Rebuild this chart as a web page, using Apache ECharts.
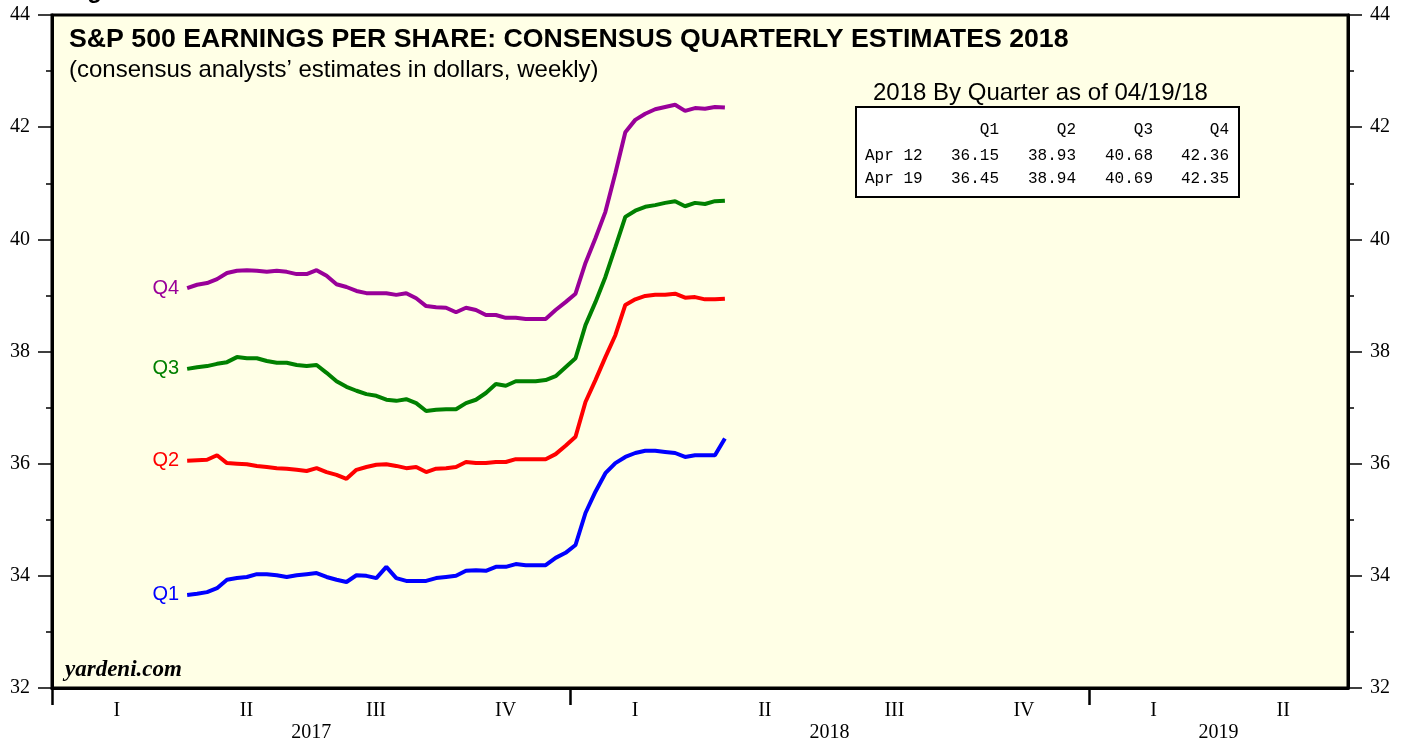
<!DOCTYPE html>
<html>
<head>
<meta charset="utf-8">
<script src="https://cdn.jsdelivr.net/npm/echarts@6/dist/echarts.min.js"></script>
<style>
html, body { margin: 0; padding: 0; background: #fff; }
#chart { width: 1407px; height: 744px; }
</style>
</head>
<body>
<div id="chart"></div>
<script>
// weekly observations, Thursdays from 2017-04-06 to 2018-04-19
const firstWeek = [2017, 3, 6];
const q1Est = [
    33.66, 33.68, 33.71, 33.78, 33.93, 33.96, 33.98, 34.03, 34.03, 34.01,
    33.98, 34.01, 34.03, 34.05, 33.98, 33.93, 33.89, 34.01, 34.00, 33.96,
    34.16, 33.96, 33.91, 33.91, 33.91, 33.96, 33.98, 34.00, 34.09, 34.10,
    34.09, 34.16, 34.16, 34.21, 34.19, 34.19, 34.19, 34.32, 34.41, 34.55,
    35.12, 35.50, 35.83, 36.01, 36.12, 36.19, 36.23, 36.23, 36.21, 36.19,
    36.12, 36.15, 36.15, 36.15, 36.45
];
const q2Est = [
    36.05, 36.06, 36.07, 36.15, 36.01, 36.00, 35.99, 35.96, 35.94, 35.92,
    35.91, 35.89, 35.87, 35.92, 35.85, 35.80, 35.73, 35.89, 35.94, 35.98,
    35.99, 35.96, 35.92, 35.94, 35.85, 35.91, 35.92, 35.94, 36.03, 36.01,
    36.01, 36.03, 36.03, 36.08, 36.08, 36.08, 36.08, 36.17, 36.32, 36.48,
    37.10, 37.49, 37.90, 38.29, 38.83, 38.93, 38.99, 39.01, 39.01, 39.03,
    38.96, 38.97, 38.93, 38.93, 38.94
];
const q3Est = [
    37.69, 37.72, 37.74, 37.78, 37.81, 37.90, 37.88, 37.88, 37.83, 37.80,
    37.80, 37.76, 37.74, 37.76, 37.62, 37.47, 37.37, 37.30, 37.24, 37.21,
    37.14, 37.12, 37.15, 37.08, 36.94, 36.96, 36.97, 36.97, 37.08, 37.14,
    37.26, 37.42, 37.39, 37.47, 37.47, 37.47, 37.49, 37.56, 37.72, 37.88,
    38.47, 38.88, 39.33, 39.86, 40.40, 40.51, 40.58, 40.61, 40.65, 40.68,
    40.59, 40.65, 40.63, 40.68, 40.69
];
const q4Est = [
    39.13, 39.19, 39.22, 39.29, 39.40, 39.44, 39.45, 39.44, 39.42, 39.44,
    39.42, 39.38, 39.38, 39.45, 39.35, 39.20, 39.15, 39.08, 39.04, 39.04,
    39.04, 39.01, 39.04, 38.95, 38.81, 38.79, 38.78, 38.70, 38.78, 38.74,
    38.65, 38.65, 38.60, 38.60, 38.58, 38.58, 38.58, 38.74, 38.88, 39.03,
    39.58, 40.02, 40.49, 41.18, 41.91, 42.13, 42.24, 42.32, 42.36, 42.40,
    42.29, 42.34, 42.33, 42.36, 42.35
];
const seriesNames = ['Q1', 'Q2', 'Q3', 'Q4'];
const quarterLabels = ['I', 'II', 'III', 'IV', 'I', 'II', 'III', 'IV', 'I', 'II'];
const yearLabels = { 2: '2017', 6: '2018', 9: '2019' };
const tableCols = ['Q1', 'Q2', 'Q3', 'Q4'];
const tableRows = ['Apr 12', 'Apr 19'];
const tableValues = [
    [36.15, 38.93, 40.68, 42.36],
    [36.45, 38.94, 40.69, 42.35]
];

const colors = ['#0000FF', '#FF0000', '#008000', '#990099'];
const serif = '"Liberation Serif", "DejaVu Serif", serif';
const sans = '"Liberation Sans", Arial, sans-serif';
const mono = '"Liberation Mono", "Courier New", monospace';

const chart = echarts.init(document.getElementById('chart'));

const weeks = q1Est.map((v, i) => new Date(firstWeek[0], firstWeek[1], firstWeek[2] + 7 * i).getTime());

const seriesData = [q1Est, q2Est, q3Est, q4Est].map((vals, idx) => {
    const data = vals.map((v, i) => {
        if (i === 0) {
            return {
                value: [weeks[i], v],
                label: {
                    show: true,
                    position: 'left',
                    distance: 8,
                    formatter: seriesNames[idx],
                    color: colors[idx],
                    fontFamily: sans,
                    fontSize: 20
                }
            };
        }
        return [weeks[i], v];
    });
    return {
        name: seriesNames[idx],
        type: 'line',
        xAxisIndex: 0,
        yAxisIndex: 0,
        symbol: 'circle',
        symbolSize: 0,
        showSymbol: true,
        lineStyle: { color: colors[idx], width: 4 },
        itemStyle: { color: colors[idx] },
        data: data
    };
});

// table in the upper right
const colRight = [999, 1076, 1153, 1229];
const rowY = [156, 179];
const tableTexts = [];
tableCols.forEach((c, j) => {
    tableTexts.push({
        type: 'text', x: colRight[j], y: 130,
        style: { text: c, font: '16px ' + mono, fill: '#000', textAlign: 'right', textVerticalAlign: 'middle' }
    });
});
tableRows.forEach((r, i) => {
    tableTexts.push({
        type: 'text', x: 865, y: rowY[i],
        style: { text: r, font: '16px ' + mono, fill: '#000', textAlign: 'left', textVerticalAlign: 'middle' }
    });
    tableValues[i].forEach((v, j) => {
        tableTexts.push({
            type: 'text', x: colRight[j], y: rowY[i],
            style: { text: v.toFixed(2), font: '16px ' + mono, fill: '#000', textAlign: 'right', textVerticalAlign: 'middle' }
        });
    });
});

const yMajor = (pos) => ({
    type: 'value', position: pos, min: 32, max: 44, interval: 2,
    axisLine: { show: true, lineStyle: { color: '#000', width: 3 } },
    axisTick: { show: true, length: 14, lineStyle: { color: '#000', width: 1.5 } },
    axisLabel: { color: '#000', fontFamily: serif, fontSize: 20, margin: 22 },
    splitLine: { show: false }
});
const yMinor = (pos) => ({
    type: 'value', position: pos, min: 32, max: 44, interval: 1,
    axisLine: { show: false },
    axisTick: { show: true, length: 6, lineStyle: { color: '#000', width: 1.5 } },
    axisLabel: { show: false },
    splitLine: { show: false }
});

const option = {
    backgroundColor: '#fff',
    animation: false,
    title: [
        {
            text: 'S&P 500 EARNINGS PER SHARE: CONSENSUS QUARTERLY ESTIMATES 2018',
            left: 64, top: 21,
            textStyle: { fontFamily: sans, fontSize: 26.7, fontWeight: 'bold', color: '#000' }
        },
        {
            text: '(consensus analysts\u2019 estimates in dollars, weekly)',
            left: 64, top: 53,
            textStyle: { fontFamily: sans, fontSize: 24, fontWeight: 'normal', color: '#000' }
        }
    ],
    grid: [
        {
            left: 52, right: 59, top: 15, bottom: 56,
            show: true, backgroundColor: '#FFFFE6', borderColor: '#000', borderWidth: 3
        },
        // wider twin grid only for the year-boundary ticks (its last tick falls off the page)
        { left: 52, width: 1296 * 1.2, top: 15, bottom: 56, show: false, outerBoundsMode: 'none', containLabel: false }
    ],
    xAxis: [
        {
            type: 'time', show: false,
            min: new Date(2017, 0, 1).getTime(), max: new Date(2019, 6, 1).getTime()
        },
        {
            type: 'category', position: 'bottom', data: quarterLabels, boundaryGap: true,
            axisLine: { show: true, lineStyle: { color: '#000', width: 3 } },
            axisTick: { show: false },
            axisLabel: { color: '#000', fontFamily: serif, fontSize: 20, margin: 13, interval: 0 }
        },
        {
            type: 'value', position: 'bottom', min: 0, max: 10, interval: 1,
            axisLine: { show: false }, axisTick: { show: false }, splitLine: { show: false },
            axisLabel: {
                color: '#000', fontFamily: serif, fontSize: 20, margin: 35,
                formatter: (v) => yearLabels[v] || ''
            }
        },
        {
            gridIndex: 1, type: 'value', position: 'bottom', min: 0, max: 12, interval: 4,
            axisLine: { show: false }, splitLine: { show: false }, axisLabel: { show: false },
            axisTick: { show: true, length: 17, lineStyle: { color: '#000', width: 2.5 } }
        }
    ],
    yAxis: [yMajor('left'), yMinor('left'), yMajor('right'), yMinor('right'),
        { gridIndex: 1, type: 'value', show: false, min: 0, max: 1 }],
    graphic: [
        {
            type: 'text', x: 66, y: 3,
            style: { text: 'Figure', font: 'bold 24px ' + sans, fill: '#000', textVerticalAlign: 'bottom' }
        },
        {
            type: 'text', left: 873, top: 81,
            style: { text: '2018 By Quarter as of 04/19/18', font: '24px ' + sans, fill: '#000' }
        },
        {
            type: 'rect', shape: { x: 856, y: 107, width: 383, height: 90 },
            style: { fill: '#fff', stroke: '#000', lineWidth: 2 }
        },
        {
            type: 'text', left: 65, top: 659,
            style: { text: 'yardeni.com', font: 'italic bold 23px ' + serif, fill: '#000' }
        }
    ].concat(tableTexts),
    series: seriesData
};

chart.setOption(option);
</script>
</body>
</html>
